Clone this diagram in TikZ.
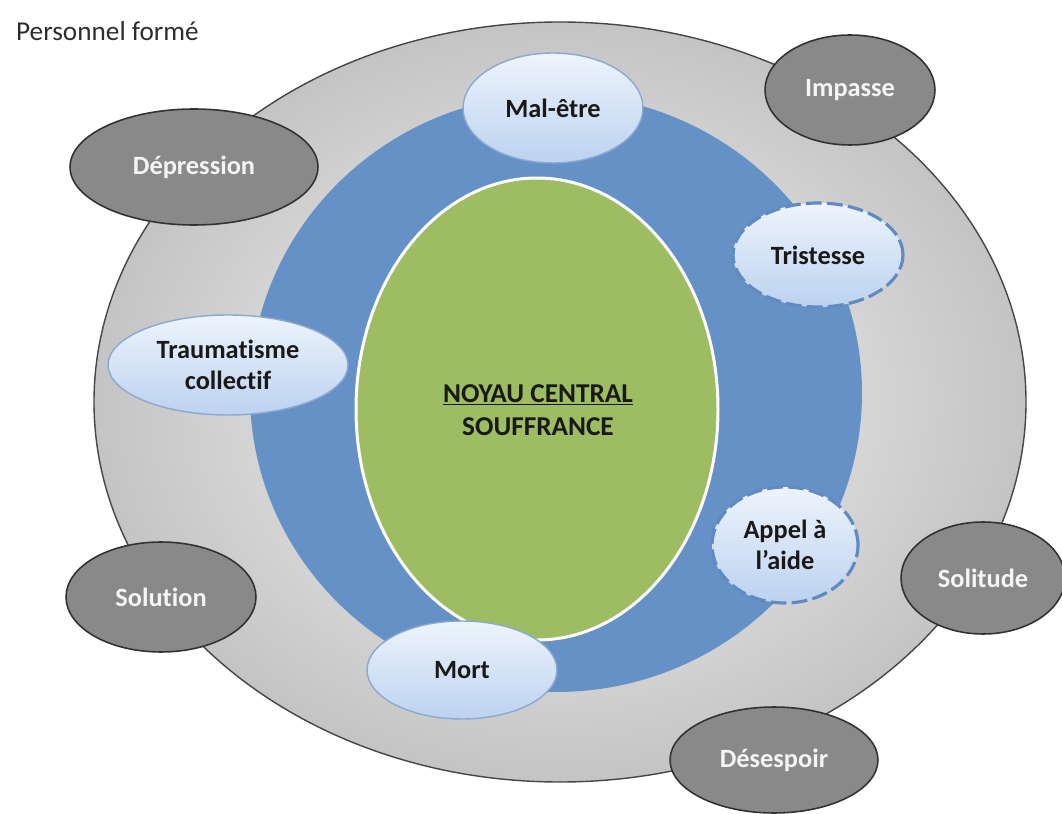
\documentclass[tikz,border=0pt]{standalone}
\usepackage{fontspec}
\setmainfont{Carlito}[Ligatures=NoCommon]
\usetikzlibrary{shapes.geometric}

\definecolor{ringblue}{RGB}{102,145,198}
\definecolor{coregreen}{RGB}{158,189,98}
\definecolor{outerline}{RGB}{70,70,70}
\definecolor{outerin}{RGB}{246,246,246}
\definecolor{outerout}{RGB}{196,196,196}
\definecolor{bubtop}{RGB}{238,244,252}
\definecolor{bubbot}{RGB}{188,210,240}
\definecolor{bubline}{RGB}{140,168,206}
\definecolor{dashline}{RGB}{98,138,194}
\definecolor{darkfill}{RGB}{137,137,137}
\definecolor{darkline}{RGB}{50,50,50}
\definecolor{inktext}{RGB}{25,25,25}
\definecolor{captext}{RGB}{45,45,45}

\tikzset{
  bubble/.style={ellipse, draw=bubline, line width=0.8pt, top color=bubtop,
    bottom color=bubbot, inner sep=0pt, text=inktext, align=center,
    font=\fontsize{15}{17.5}\selectfont\bfseries},
  dashbubble/.style={bubble, draw=dashline, line width=1.8pt,
    dash pattern=on 9pt off 3pt},
  greybubble/.style={ellipse, draw=darkline, line width=0.9pt, fill=darkfill,
    inner sep=0pt, text=white!96!black,
    font=\fontsize{15}{17.5}\selectfont\bfseries}
}

\begin{document}
\begin{tikzpicture}[x=0.02cm, y=-0.02cm]
  \useasboundingbox (0,0) rectangle (1062,814);

  \coordinate (outc) at (560,402);
  \coordinate (ringc) at (556,393);
  \coordinate (corec) at (537,409);

  % three rings
  \shade[shading=radial, inner color=outerin, outer color=outerout]
    (outc) ellipse [x radius=466, y radius=380];
  \draw[outerline, line width=0.8pt] (outc) ellipse [x radius=466, y radius=380];
  \fill[ringblue] (ringc) ellipse [x radius=306, y radius=299];
  \draw[white, line width=1.7pt, fill=coregreen]
    (corec) ellipse [x radius=181, y radius=231];

  \node[align=center, text=inktext, font=\fontsize{15.5}{19}\selectfont\bfseries]
    (noyau) at (538,410) {\underline{NOYAU CENTRAL}\\SOUFFRANCE};

  \node[anchor=base west, text=captext, font=\fontsize{15.5}{18}\selectfont]
    (titre) at (10,41) {Personnel formé};

  % outer words
  \node[greybubble, minimum width=3.4cm, minimum height=2.2cm] (impasse) at (850,90) {Impasse};
  \node[greybubble, minimum width=4.96cm, minimum height=2.32cm] (depression) at (194,167) {Dépression};
  \node[greybubble, minimum width=3.8cm, minimum height=2.2cm] (solution) at (161,597) {Solution};
  \node[greybubble, minimum width=3.28cm, minimum height=2.24cm] (solitude) at (983,578) {Solitude};
  \node[greybubble, minimum width=4.16cm, minimum height=2.12cm] (desespoir) at (774,760) {Désespoir};

  % ring words
  \node[bubble, minimum width=3.6cm, minimum height=2.2cm] (maletre) at (553,108) {Mal-être};
  \node[dashbubble, minimum width=3.4cm, minimum height=2.08cm] (tristesse) at (818,255) {Tristesse};
  \node[bubble, minimum width=4.8cm, minimum height=2.0cm] (trauma) at (228,365) {Traumatisme\\collectif};
  \node[dashbubble, minimum width=2.92cm, minimum height=2.32cm] (appel) at (785,545) {Appel à\\l’aide};
  \node[bubble, minimum width=3.8cm, minimum height=1.96cm] (mort) at (462,670) {Mort};
\end{tikzpicture}
\end{document}
